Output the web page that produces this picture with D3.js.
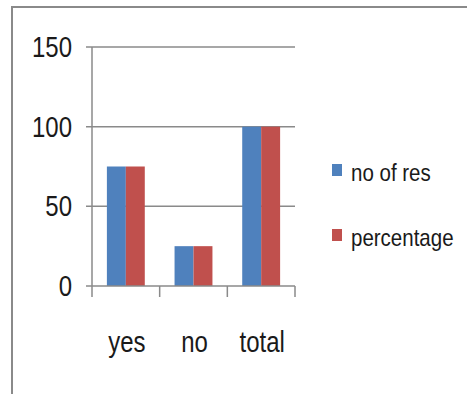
<!DOCTYPE html>
<html>
<head>
<meta charset="utf-8">
<script src="https://cdn.jsdelivr.net/npm/d3@7"></script>
<style>
  html, body { margin: 0; padding: 0; background: #fff; }
  svg { display: block; }
  text { font-family: "Liberation Sans", Arial, sans-serif; fill: #1a1a1a; }
</style>
</head>
<body>
<svg id="chart" width="467" height="394"></svg>
<script>
// Survey responses: counts and percentages per answer
const categories = ["yes", "no", "total"];
const seriesNames = ["no of res", "percentage"];
const noOfRes = [75, 25, 100];
const percentage = [75, 25, 100];
const yTicks = [0, 50, 100, 150];
const colors = ["#4F81BD", "#C0504D"];

const svg = d3.select("#chart");

// outer chart frame (runs off the right and bottom edges)
svg.append("rect")
  .attr("x", 12).attr("y", 7)
  .attr("width", 470).attr("height", 400)
  .attr("fill", "#fff")
  .attr("stroke", "#8a8a8a")
  .attr("stroke-width", 2);

const plot = { left: 92, right: 295, top: 47, bottom: 286 };

const x = d3.scaleBand()
  .domain(categories)
  .range([plot.left, plot.right])
  .paddingInner(0.44)
  .paddingOuter(0.22);

const xSeries = d3.scaleBand()
  .domain(seriesNames)
  .range([0, x.bandwidth()]);

const y = d3.scaleLinear()
  .domain([0, 150])
  .range([plot.bottom, plot.top]);

const gridColor = "#8a8a8a";

// horizontal gridlines with left tick stubs
svg.append("g")
  .selectAll("line")
  .data(yTicks.filter(d => d > 0))
  .join("line")
  .attr("x1", plot.left - 6).attr("x2", plot.right)
  .attr("y1", d => y(d)).attr("y2", d => y(d))
  .attr("stroke", gridColor).attr("stroke-width", 1.5);

// bars
const rows = categories.map((c, i) => ({ cat: c, values: [noOfRes[i], percentage[i]] }));
svg.append("g")
  .selectAll("g")
  .data(rows)
  .join("g")
  .attr("transform", d => `translate(${x(d.cat)},0)`)
  .selectAll("rect")
  .data(d => d.values.map((v, j) => ({ name: seriesNames[j], v, j })))
  .join("rect")
  .attr("x", d => xSeries(d.name))
  .attr("width", xSeries.bandwidth())
  .attr("y", d => y(d.v))
  .attr("height", d => y(0) - y(d.v))
  .attr("fill", d => colors[d.j]);

// y axis line
svg.append("line")
  .attr("x1", plot.left).attr("x2", plot.left)
  .attr("y1", plot.top).attr("y2", plot.bottom)
  .attr("stroke", gridColor).attr("stroke-width", 1.5);

// x axis line with zero tick
svg.append("line")
  .attr("x1", plot.left - 6).attr("x2", plot.right)
  .attr("y1", y(0)).attr("y2", y(0))
  .attr("stroke", gridColor).attr("stroke-width", 1.5);

// category separator ticks
const step = x.step();
const sepX = d3.range(categories.length + 1).map(i => plot.left + i * (plot.right - plot.left) / categories.length);
svg.append("g")
  .selectAll("line")
  .data(sepX)
  .join("line")
  .attr("x1", d => d).attr("x2", d => d)
  .attr("y1", y(0)).attr("y2", y(0) + 11)
  .attr("stroke", gridColor).attr("stroke-width", 1.5);

// y tick labels
svg.append("g")
  .selectAll("text")
  .data(yTicks)
  .join("text")
  .attr("transform", d => `translate(72,${y(d) + 10}) scale(1,1.2)`)
  .attr("text-anchor", "end")
  .attr("font-size", 24)
  .text(d => d);

// category labels
svg.append("g")
  .selectAll("text")
  .data(categories)
  .join("text")
  .attr("transform", d => `translate(${x(d) + x.bandwidth() / 2 + 1},352) scale(1,1.2)`)
  .attr("text-anchor", "middle")
  .attr("font-size", 24)
  .text(d => d);

// legend
const legendY = [181, 246];
const legend = svg.append("g")
  .selectAll("g")
  .data(seriesNames)
  .join("g");
legend.append("rect")
  .attr("x", 332)
  .attr("y", (d, i) => legendY[i] - 17)
  .attr("width", 10).attr("height", 12)
  .attr("fill", (d, i) => colors[i]);
legend.append("text")
  .attr("transform", (d, i) => `translate(351,${legendY[i]}) scale(1,1.15)`)
  .attr("font-size", 20.5)
  .text(d => d);
</script>
</body>
</html>
